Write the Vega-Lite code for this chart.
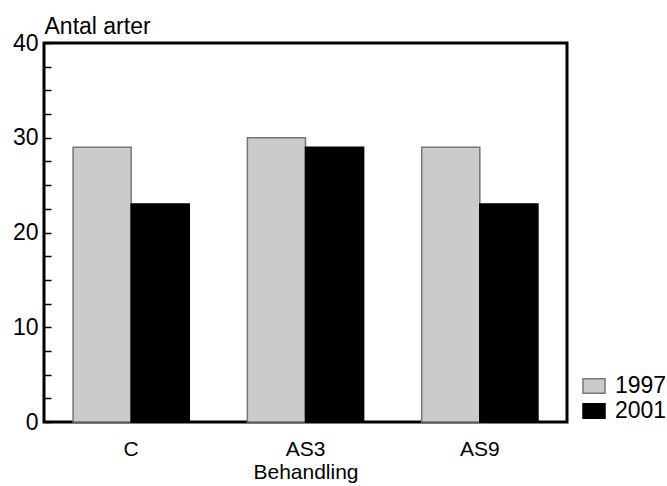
{
  "$schema": "https://vega.github.io/schema/vega-lite/v6.json",
  "width": 523,
  "height": 379,
  "autosize": {"type": "none"},
  "padding": {"left": 44, "top": 43, "right": 100, "bottom": 64},
  "background": "white",
  "config": {
    "font": "Liberation Sans",
    "view": {"stroke": "black", "strokeWidth": 3},
    "axis": {"grid": false, "labelFont": "Liberation Sans", "titleFont": "Liberation Sans", "labelColor": "black", "titleColor": "black", "titleFontWeight": "normal"}
  },
  "data": {
    "values": [
      {"Behandling": "C", "year": "1997", "arter": 29},
      {"Behandling": "C", "year": "2001", "arter": 23},
      {"Behandling": "AS3", "year": "1997", "arter": 30},
      {"Behandling": "AS3", "year": "2001", "arter": 29},
      {"Behandling": "AS9", "year": "1997", "arter": 29},
      {"Behandling": "AS9", "year": "2001", "arter": 23}
    ]
  },
  "mark": {"type": "bar", "strokeWidth": 1.5},
  "encoding": {
    "x": {
      "field": "Behandling",
      "type": "nominal",
      "sort": ["C", "AS3", "AS9"],
      "scale": {"paddingInner": 0.3333, "paddingOuter": 0.1667},
      "axis": {
        "title": "Behandling",
        "titleFontSize": 21,
        "titlePadding": 2,
        "labelFontSize": 21,
        "labelAngle": 0,
        "labelPadding": 16,
        "ticks": false,
        "domain": false
      }
    },
    "xOffset": {"field": "year", "type": "nominal", "scale": {"paddingInner": 0, "paddingOuter": 0}},
    "y": {
      "field": "arter",
      "type": "quantitative",
      "scale": {"domain": [0, 40], "nice": false},
      "axis": {
        "title": "Antal arter",
        "titleAngle": 0,
        "titleAlign": "left",
        "titleBaseline": "alphabetic",
        "titleX": 0,
        "titleY": -10,
        "titleFontSize": 23,
        "labelFontSize": 23,
        "values": [0, 2.5, 5, 7.5, 10, 12.5, 15, 17.5, 20, 22.5, 25, 27.5, 30, 32.5, 35, 37.5, 40],
        "labelExpr": "datum.value % 10 === 0 ? datum.label : ''",
        "tickSize": -7,
        "tickWidth": 1.5,
        "tickColor": "black",
        "labelPadding": 13,
        "domain": false
      }
    },
    "fill": {
      "field": "year",
      "type": "nominal",
      "scale": {"domain": ["1997", "2001"], "range": ["#cbcbcb", "#000000"]},
      "legend": {
        "title": null,
        "orient": "none",
        "legendX": 538,
        "legendY": 331,
        "symbolType": "M-1,-0.65H1V0.65H-1Z",
        "symbolSize": 484,
        "symbolStrokeWidth": 1.5,
        "labelFontSize": 23,
        "labelFont": "Liberation Sans",
        "labelColor": "black",
        "rowPadding": 1,
        "labelOffset": 9
      }
    },
    "stroke": {
      "field": "year",
      "type": "nominal",
      "scale": {"domain": ["1997", "2001"], "range": ["#777777", "#000000"]},
      "legend": null
    }
  }
}
